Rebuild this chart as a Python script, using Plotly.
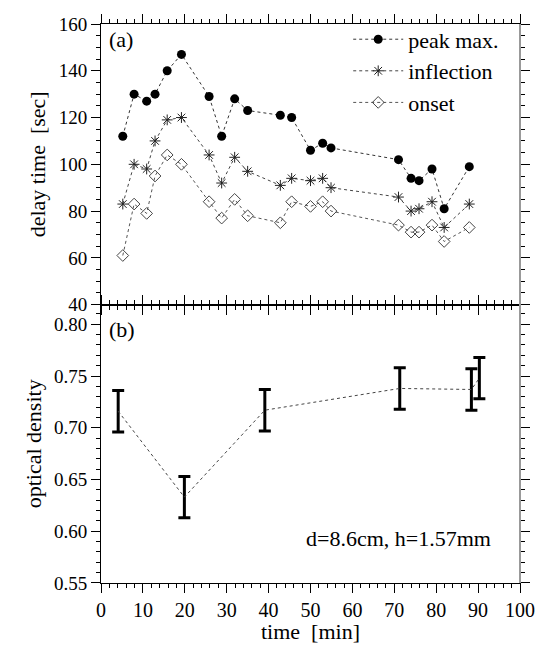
import plotly.graph_objects as go

# ---- data ----
time_a = [5.2, 7.9, 10.9, 12.9, 15.8, 19.2, 25.8, 28.8, 31.9, 35.0, 42.8,
          45.5, 50.0, 52.9, 54.9, 71.0, 74.0, 75.9, 79.0, 81.9, 87.9]
peak_max = [112, 130, 127, 130, 140, 147, 129, 112, 128, 123, 121,
            120, 106, 109, 107, 102, 94, 93, 98, 81, 99]
inflection = [83, 100, 98, 110, 119, 120, 104, 92, 103, 97, 91,
              94, 93, 94, 90, 86, 80, 81, 84, 73, 83]
onset = [61, 83, 79, 95, 104, 100, 84, 77, 85, 78, 75,
         84, 82, 84, 80, 74, 71, 71, 74, 67, 73]

time_b = [4.1, 19.9, 39.1, 71.3, 88.4, 90.3]
optical_density = [0.716, 0.633, 0.717, 0.738, 0.737, 0.748]
od_error = [0.020, 0.020, 0.020, 0.020, 0.020, 0.020]

x_ticks = list(range(0, 101, 10))
y1_ticks = [40, 60, 80, 100, 120, 140, 160]
y2_ticks = [0.55, 0.60, 0.65, 0.70, 0.75, 0.80]

FONT = "Liberation Serif, Times New Roman, DejaVu Serif, serif"

fig = go.Figure()

fig.add_trace(go.Scatter(
    x=time_a, y=peak_max, name="peak max.", mode="lines+markers",
    line=dict(color="#333333", width=1, dash="dot"),
    marker=dict(symbol="circle", size=9, color="black"),
    xaxis="x", yaxis="y"))
fig.add_trace(go.Scatter(
    x=time_a, y=inflection, name="inflection", mode="lines+markers",
    line=dict(color="#444444", width=1, dash="dot"),
    marker=dict(symbol="asterisk-open", size=9, color="#222222",
                line=dict(width=1, color="#222222")),
    xaxis="x", yaxis="y"))
fig.add_trace(go.Scatter(
    x=time_a, y=onset, name="onset", mode="lines+markers",
    line=dict(color="#555555", width=1, dash="dot"),
    marker=dict(symbol="diamond-open", size=9, color="#444444",
                line=dict(width=1, color="#444444")),
    xaxis="x", yaxis="y"))

fig.add_trace(go.Scatter(
    x=time_b, y=optical_density, mode="lines", showlegend=False,
    line=dict(color="#444444", width=1, dash="dot"),
    error_y=dict(type="data", array=od_error, visible=True,
                 color="black", thickness=3, width=6),
    xaxis="x2", yaxis="y2"))

axis_common = dict(
    showline=True, linecolor="black", linewidth=1,
    ticks="outside", ticklen=9, tickwidth=1, tickcolor="black",
    mirror="ticks", showgrid=False, zeroline=False, automargin=False,
    tickfont=dict(family=FONT, size=19, color="black"),
)

# page body adds an 8px margin, so the figure is 8px smaller on each axis
fig.update_layout(
    width=537, height=639,
    margin=dict(l=93, r=25, t=10, b=64),
    paper_bgcolor="white", plot_bgcolor="white",
    font=dict(family=FONT, size=22, color="black"),
    showlegend=True,
    legend=dict(x=0.59, y=1.01, xanchor="left", yanchor="top",
                bgcolor="rgba(0,0,0,0)", font=dict(family=FONT, size=22),
                itemwidth=50, tracegroupgap=0),
    xaxis=dict(axis_common, domain=[0, 1], range=[0, 100], anchor="y",
               tickvals=x_ticks, showticklabels=False,
               minor=dict(ticks="outside", ticklen=4, dtick=2,
                          tickcolor="black")),
    xaxis2=dict(axis_common, domain=[0, 1], range=[0, 100], anchor="y2",
                matches="x", tickvals=x_ticks,
                ticktext=[str(v) for v in x_ticks],
                tickfont=dict(family=FONT, size=20, color="black"),
                minor=dict(ticks="outside", ticklen=4, dtick=2,
                           tickcolor="black")),
    yaxis=dict(axis_common, domain=[0.498, 1], range=[40, 160], anchor="x",
               tickvals=y1_ticks,
               title=dict(text="delay time \u00a0[sec]",
                          font=dict(family=FONT, size=22), standoff=6),
               minor=dict(ticks="outside", ticklen=4, dtick=5,
                          tickcolor="black")),
    yaxis2=dict(axis_common, domain=[0, 0.498], range=[0.55, 0.819],
                anchor="x2", tickvals=y2_ticks, tickformat=".2f",
                title=dict(text="optical density",
                           font=dict(family=FONT, size=22), standoff=6),
                minor=dict(ticks="outside", ticklen=4, dtick=0.01,
                           tickcolor="black")),
)

# right-hand frame line drawn in grey as in the original
fig.add_shape(type="line", xref="paper", yref="paper", x0=1, x1=1, y0=0, y1=1,
              line=dict(color="#999999", width=2), layer="above")

# x-axis title placed as an annotation so it stays inside the page
fig.add_annotation(text="time \u00a0[min]", xref="paper", yref="paper", x=0.5,
                   y=0, xanchor="center", yanchor="top", yshift=-34,
                   showarrow=False, font=dict(family=FONT, size=22))

fig.add_annotation(text="(a)", xref="x", yref="y domain", x=1.5, y=0.945,
                   xanchor="left", yanchor="middle", showarrow=False,
                   font=dict(family=FONT, size=22))
fig.add_annotation(text="(b)", xref="x2", yref="y2 domain", x=1.5, y=0.91,
                   xanchor="left", yanchor="middle", showarrow=False,
                   font=dict(family=FONT, size=22))
fig.add_annotation(text="d=8.6cm, h=1.57mm", xref="x2", yref="y2", x=93.6,
                   y=0.593, xanchor="right", yanchor="middle", showarrow=False,
                   font=dict(family=FONT, size=22))

fig.write_html("out.html")
